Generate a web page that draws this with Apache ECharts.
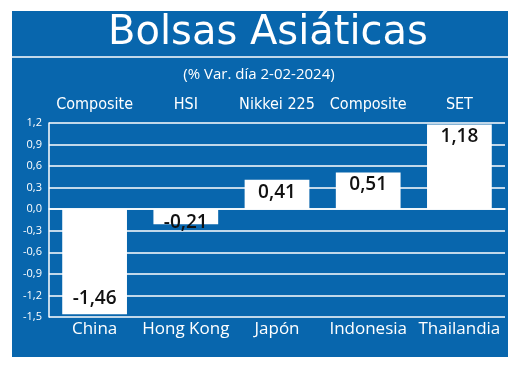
<!DOCTYPE html>
<html>
<head>
<meta charset="utf-8">
<script src="https://cdn.jsdelivr.net/npm/echarts@6/dist/echarts.min.js"></script>
<style>
  html, body { margin: 0; padding: 0; background: #fff; }
  #chart { width: 520px; height: 374px; }
</style>
</head>
<body>
<div id="chart"></div>
<script>
var countries = ['China', 'Hong Kong', 'Japón', 'Indonesia', 'Thailandia'];
var indexNames = ['Composite', 'HSI', 'Nikkei 225', 'Composite', 'SET'];
var changes = [-1.46, -0.21, 0.41, 0.51, 1.18];

var blue = '#0866ad';

function comma(v, d) {
  return v.toFixed(d).replace('.', ',');
}

function initChart(dom) {
  var myChart = echarts.init(dom),
    barData = changes.map(function (v) {
      return {
        value: v,
        label: {
          position: v < 0 ? 'insideBottom' : 'insideTop',
          distance: v < 0 ? (v > -0.3 ? -8 : 6) : 3
        }
      };
    }),
    option = {
      backgroundColor: '#fff',
      animation: false,
      graphic: [{
        type: 'rect',
        z: -10,
        shape: { x: 12, y: 11, width: 496, height: 346 },
        style: { fill: blue }
      }, {
        type: 'line',
        z: -5,
        shape: { x1: 12, y1: 57, x2: 508, y2: 57 },
        style: { stroke: '#fff', lineWidth: 1.5 }
      }],
      title: [{
        text: 'Bolsas Asiáticas',
        left: 263,
        top: 9,
        textAlign: 'center',
        textStyle: {
          color: '#fff',
          fontFamily: 'DejaVu Sans',
          fontWeight: 'normal',
          fontSize: 40
        }
      }, {
        text: '(% Var. día 2-02-2024)',
        left: 254,
        top: 62,
        textAlign: 'center',
        textStyle: {
          color: '#fff',
          fontFamily: 'Open Sans',
          fontWeight: 'normal',
          fontSize: 15
        }
      }],
      grid: {
        left: 49,
        right: 15,
        top: 123,
        bottom: 57
      },
      xAxis: [{
        type: 'category',
        data: countries,
        position: 'bottom',
        axisLine: { show: true, lineStyle: { color: '#fff', width: 1.5 } },
        axisTick: { show: false },
        axisLabel: {
          interval: 0,
          color: '#fff',
          fontFamily: 'Open Sans',
          fontSize: 17,
          margin: 4
        }
      }, {
        type: 'category',
        data: indexNames,
        position: 'top',
        axisLine: { show: false },
        axisTick: { show: false },
        axisLabel: {
          interval: 0,
          color: '#fff',
          fontFamily: 'DejaVu Sans Condensed',
          fontSize: 16,
          margin: 10
        }
      }],
      yAxis: {
        type: 'value',
        min: -1.5,
        max: 1.2,
        interval: 0.3,
        axisLine: { show: true, lineStyle: { color: '#fff', width: 1.5 } },
        axisTick: { show: false },
        splitLine: { show: true, lineStyle: { color: '#fff', width: 1.5 } },
        axisLabel: {
          color: '#fff',
          fontFamily: 'Open Sans',
          fontSize: 11,
          margin: 7,
          formatter: function (v) {
            return comma(v, 1);
          }
        }
      },
      series: [{
        type: 'bar',
        xAxisIndex: 0,
        data: barData,
        barWidth: '71%',
        itemStyle: { color: '#fff' },
        label: {
          show: true,
          color: '#111',
          fontFamily: 'Open Sans',
          fontWeight: 600,
          fontSize: 19,
          formatter: function (p) {
            return comma(p.value, 2);
          }
        }
      }]
    };
  myChart.setOption(option, true);
  window.addEventListener('resize', function () {
    myChart.resize();
  });
}

initChart(document.getElementById('chart'));
</script>
</body>
</html>
